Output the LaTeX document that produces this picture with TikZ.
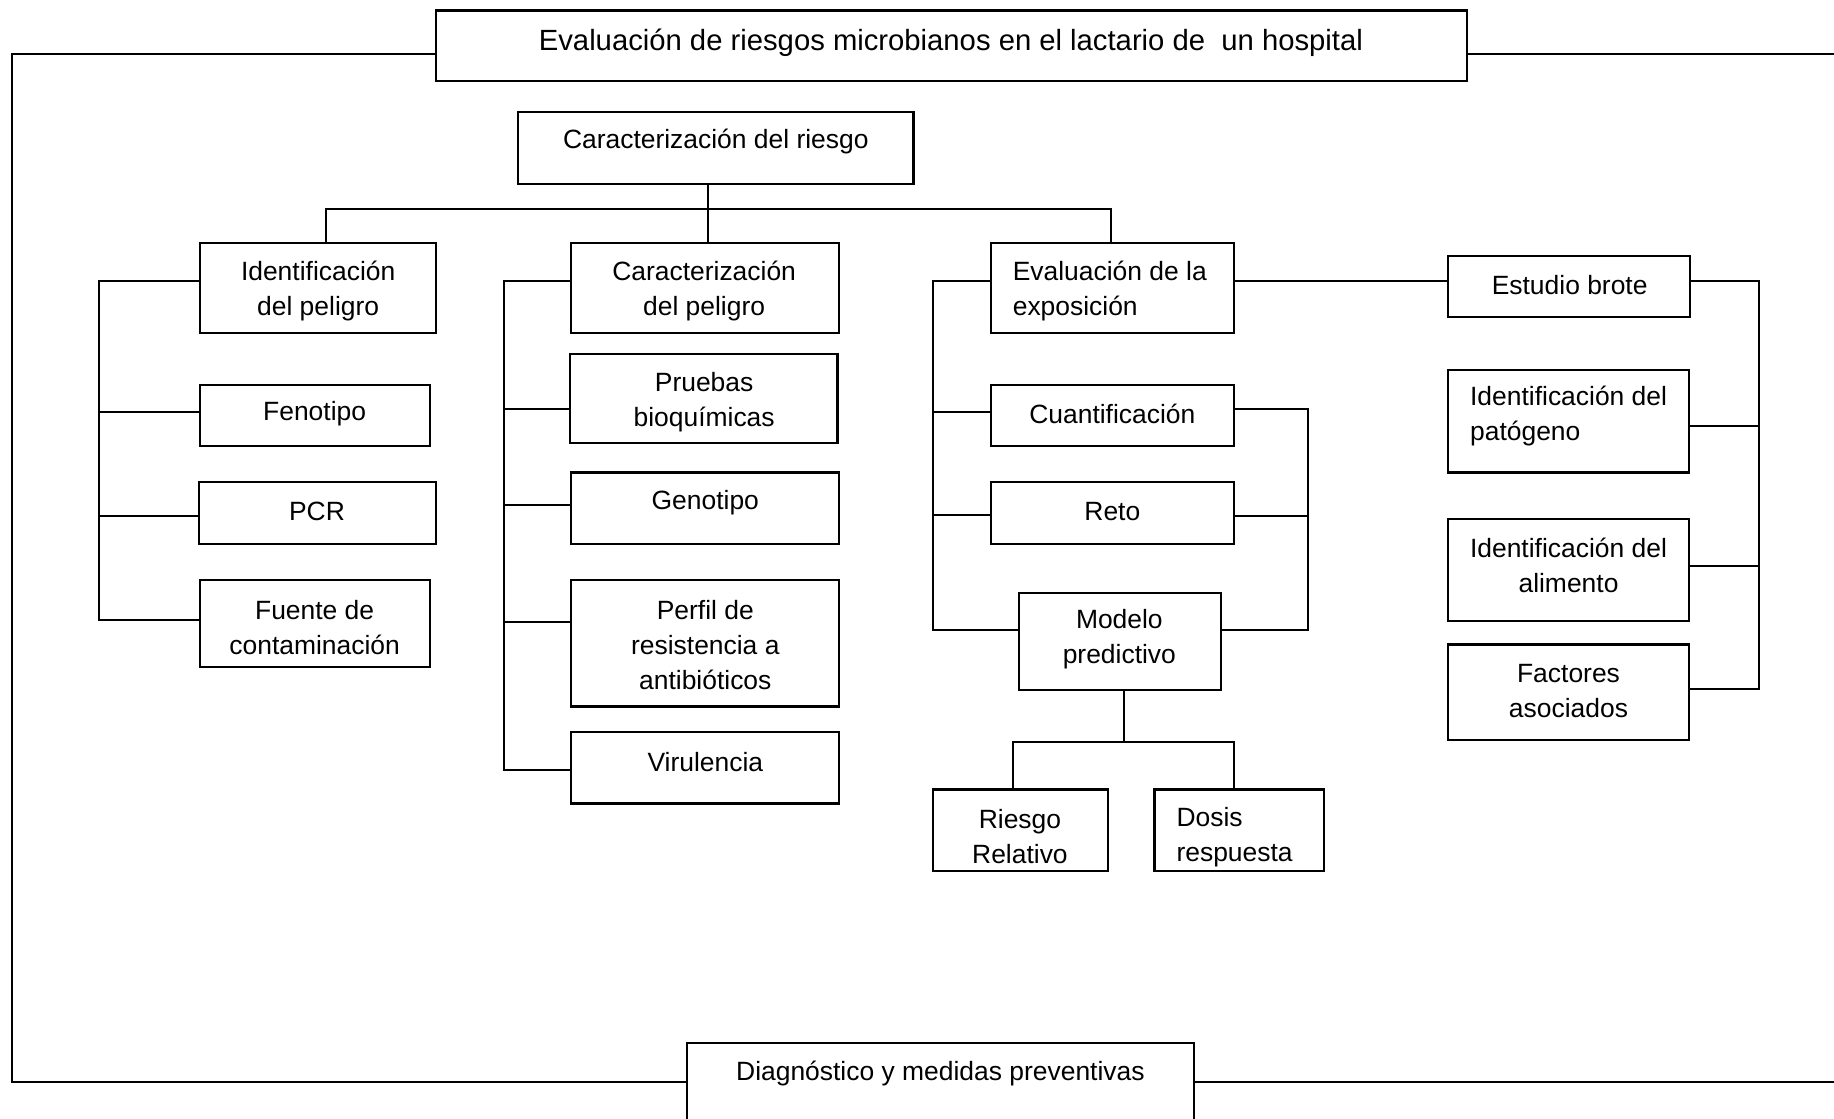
\documentclass[tikz,border=0pt]{standalone}
\usepackage{fontspec}
\setmainfont{Liberation Sans}
\begin{document}
\begin{tikzpicture}[x=0.5pt,y=-0.5pt,
  line width=0.9pt,
  box/.style={draw=black, line width=0.9pt, inner sep=0pt, fill=white},
  txt/.style={inner sep=0pt, align=center, yshift=-1.3pt, font=\fontsize{11.3}{15}\selectfont},
  ltxt/.style={txt, align=left, anchor=west}]
\useasboundingbox (0,0) rectangle (1568,956);
\clip (0,0) rectangle (1568,956);
\fill[white] (0,0) rectangle (1568,956);

% box from its corners: name, x1, y1, x2, y2
\newcommand\mkbox[5]{%
  \node[box, minimum width={(#4-#2)*0.5pt}, minimum height={(#5-#3)*0.5pt}]
    (#1) at ({(#2+#4)/2},{(#3+#5)/2}) {};}

% frame round the whole scheme
\mkbox{title}{373}{9}{1254}{69}
\mkbox{diag}{587}{892}{1021}{990}
\coordinate (L1) at (10,46);
\coordinate (L2) at (10,925);
\coordinate (R1) at (1568,46);
\coordinate (R2) at (1568,925);
\draw (title.west |- L1) -- (L1) -- (L2) -- (diag.west |- L2);
\draw (title.east |- R1) -- (R1);
\draw (diag.east |- R2) -- (R2);
\node[txt, font=\fontsize{12.5}{15}\selectfont] (title-t) at (813,34) {Evaluación de riesgos microbianos en el lactario de~ un hospital};
\node[txt] (diag-t) at (804,915) {Diagnóstico y medidas preventivas};

% risk characterisation and its three branches
\mkbox{riesgo}{443}{96}{781}{157}
\node[txt] (riesgo-t) at (612,118) {Caracterización del riesgo};
\mkbox{idp}{171}{208}{373}{285}
\mkbox{carp}{488}{208}{717}{285}
\mkbox{evexp}{847}{208}{1055}{285}
\coordinate (b0) at (605,179);
\coordinate (b1) at (279,179);
\coordinate (b3) at (950,179);
\draw (riesgo.south -| b0) -- (b0) -- (carp.north -| b0);
\draw (idp.north -| b1) -- (b1) -- (b3) -- (evexp.north -| b3);
\node[txt] (idp-t) at (272,246) {Identificación\\del peligro};
\node[txt] (carp-t) at (602,246) {Caracterización\\del peligro};
\node[ltxt] (evexp-t) at (865,246) {Evaluación de la\\exposición};

% hazard identification
\mkbox{fenotipo}{171}{329}{368}{381}
\mkbox{pcr}{170}{412}{373}{465}
\mkbox{fuente}{171}{496}{368}{570}
\node[txt] (fenotipo-t) at (269,351) {Fenotipo};
\node[txt] (pcr-t) at (271,435) {PCR};
\node[txt] (fuente-t) at (269,534) {Fuente de\\contaminación};
\coordinate (l1) at (85,240);
\coordinate (l2) at (85,352);
\coordinate (l3) at (85,441);
\coordinate (l4) at (85,530);
\draw (idp.west |- l1) -- (l1) -- (l4) -- (fuente.west |- l4);
\draw (l2) -- (fenotipo.west |- l2);
\draw (l3) -- (pcr.west |- l3);

% hazard characterisation
\mkbox{pruebas}{487}{303}{716}{379}
\mkbox{genotipo}{488}{404}{717}{465}
\mkbox{perfil}{488}{496}{717}{604}
\mkbox{virulencia}{488}{626}{717}{687}
\node[txt] (pruebas-t) at (602,341) {Pruebas\\bioquímicas};
\node[txt] (genotipo-t) at (603,427) {Genotipo};
\node[txt] (perfil-t) at (603,549) {Perfil de\\resistencia a\\antibióticos};
\node[txt] (virulencia-t) at (603,649) {Virulencia};
\coordinate (m1) at (431,240);
\coordinate (m2) at (431,350);
\coordinate (m3) at (431,432);
\coordinate (m4) at (431,532);
\coordinate (m5) at (431,658);
\draw (carp.west |- m1) -- (m1) -- (m5) -- (virulencia.west |- m5);
\draw (m2) -- (pruebas.west |- m2);
\draw (m3) -- (genotipo.west |- m3);
\draw (m4) -- (perfil.west |- m4);

% exposure assessment
\mkbox{cuant}{847}{329}{1055}{381}
\mkbox{reto}{847}{412}{1055}{465}
\mkbox{modelo}{871}{507}{1044}{590}
\node[txt] (cuant-t) at (951,351) {Cuantificación};
\node[txt] (reto-t) at (951,435) {Reto};
\node[txt] (modelo-t) at (957,544) {Modelo\\predictivo};
\coordinate (e1) at (798,240);
\coordinate (e2) at (798,352);
\coordinate (e3) at (798,440);
\coordinate (e4) at (798,539);
\draw (evexp.west |- e1) -- (e1) -- (e4) -- (modelo.west |- e4);
\draw (e2) -- (cuant.west |- e2);
\draw (e3) -- (reto.west |- e3);
\coordinate (r1) at (1118,350);
\coordinate (r2) at (1118,441);
\coordinate (r3) at (1118,539);
\draw (cuant.east |- r1) -- (r1) -- (r3) -- (modelo.east |- r3);
\draw (reto.east |- r2) -- (r2);

% predictive model outputs
\mkbox{rr}{798}{675}{947}{745}
\mkbox{dosis}{987}{675}{1132}{745}
\node[txt] (rr-t) at (872,713) {Riesgo\\Relativo};
\node[ltxt] (dosis-t) at (1005,713) {Dosis\\respuesta};
\coordinate (s0) at (961,634);
\coordinate (s1) at (866,634);
\coordinate (s2) at (1055,634);
\draw (modelo.south -| s0) -- (s0);
\draw (rr.north -| s1) -- (s1) -- (s2) -- (dosis.north -| s2);

% outbreak study
\mkbox{brote}{1238}{219}{1445}{271}
\mkbox{idpat}{1238}{316}{1444}{404}
\mkbox{idali}{1238}{444}{1444}{531}
\mkbox{factores}{1238}{551}{1444}{633}
\node[txt] (brote-t) at (1342,241) {Estudio brote};
\node[ltxt] (idpat-t) at (1256,353) {Identificación del\\patógeno};
\node[txt] (idali-t) at (1341,481) {Identificación del\\alimento};
\node[txt] (factores-t) at (1341,588) {Factores\\asociados};
\coordinate (t0) at (1150,240);
\draw (evexp.east |- t0) -- (brote.west |- t0);
\coordinate (q1) at (1504,240);
\coordinate (q2) at (1504,364);
\coordinate (q3) at (1504,484);
\coordinate (q4) at (1504,589);
\draw (brote.east |- q1) -- (q1) -- (q4) -- (factores.east |- q4);
\draw (idpat.east |- q2) -- (q2);
\draw (idali.east |- q3) -- (q3);
\end{tikzpicture}
\end{document}
